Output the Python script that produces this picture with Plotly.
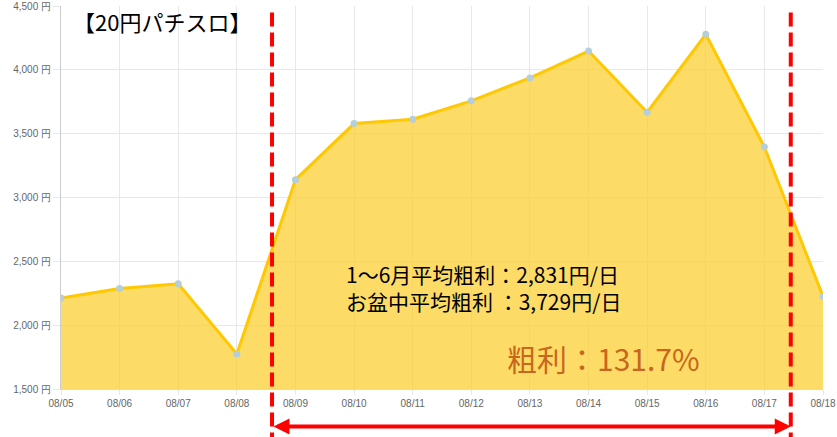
import plotly.graph_objects as go

dates = ["08/05", "08/06", "08/07", "08/08", "08/09", "08/10", "08/11",
         "08/12", "08/13", "08/14", "08/15", "08/16", "08/17", "08/18"]
profit = [2212, 2287, 2324, 1774, 3140, 3579, 3613,
          3757, 3937, 4147, 3668, 4278, 3395, 2225]
y_ticks = [1500, 2000, 2500, 3000, 3500, 4000, 4500]

title_text = "【20円パチスロ】"
stats_lines = ["1～6月平均粗利：2,831円/日", "お盆中平均粗利 ：3,729円/日"]
ratio_text = "粗利：131.7%"

# Obon period markers (category positions)
obon_start = 3.6
obon_end = 12.45

JP = "Noto Sans CJK JP"
AX = "Liberation Sans, Arial, sans-serif"

fig = go.Figure()
fig.add_trace(go.Scatter(
    x=dates, y=profit, mode="lines+markers",
    line=dict(color="#ffc800", width=3),
    marker=dict(color="#b5cfd8", size=7, line=dict(width=0)),
    fill="tozeroy", fillcolor="rgba(251,206,45,0.72)",
    hoverinfo="skip", showlegend=False,
))

fig.update_layout(
    width=837, height=437,
    margin=dict(l=61, r=14, t=6, b=48, autoexpand=False),
    paper_bgcolor="white", plot_bgcolor="white",
    xaxis=dict(
        type="category", range=[0, len(dates) - 1], automargin=False,
        showgrid=True, gridcolor="#e8e8e8", gridwidth=1,
        showline=True, linecolor="#d9d9d9", linewidth=1,
        ticks="outside", ticklen=5, tickcolor="#e8e8e8",
        tickfont=dict(family=AX, size=10, color="#666666"),
        zeroline=False,
    ),
    yaxis=dict(
        range=[1500, 4500], tickvals=y_ticks, automargin=False,
        ticktext=[f"{v:,} 円" for v in y_ticks],
        showgrid=True, gridcolor="#e8e8e8", gridwidth=1,
        showline=True, linecolor="#cccccc", linewidth=1,
        ticks="outside", ticklen=7, tickcolor="#e8e8e8",
        tickfont=dict(family=AX, size=10, color="#666666"),
        zeroline=False,
    ),
)

for xv in (obon_start, obon_end):
    fig.add_shape(type="line", xref="x", yref="paper",
                  x0=xv, x1=xv, y0=-0.15, y1=0.99,
                  line=dict(color="#ff0000", width=4, dash="14px,6px"))

# double-headed arrow under the x axis
fig.add_annotation(
    x=obon_end, y=-0.098, xref="x", yref="paper",
    ax=obon_start, ay=0, axref="x", ayref="pixel",
    text="", showarrow=True, arrowside="end+start",
    arrowhead=2, startarrowhead=2, arrowsize=0.8, startarrowsize=0.8,
    arrowwidth=4, arrowcolor="#ff0000", standoff=0, startstandoff=0,
)

fig.add_annotation(
    x=0.1325, y=0.961, xref="paper", yref="paper",
    xanchor="center", yanchor="middle", showarrow=False,
    text=title_text, font=dict(family=JP, size=22, color="#000000"),
)
fig.add_annotation(
    x=0.372, y=0.264, xref="paper", yref="paper",
    xanchor="left", yanchor="middle", showarrow=False, align="left",
    text="<br>".join(stats_lines), font=dict(family=JP, size=21, color="#000000"),
)
fig.add_annotation(
    x=0.583, y=0.08, xref="paper", yref="paper",
    xanchor="left", yanchor="middle", showarrow=False,
    text=ratio_text, font=dict(family=JP, size=30, color="#c9661d"),
)

fig.write_html("out.html", config={"displayModeBar": False},
               post_script="document.body.style.margin='0';")
